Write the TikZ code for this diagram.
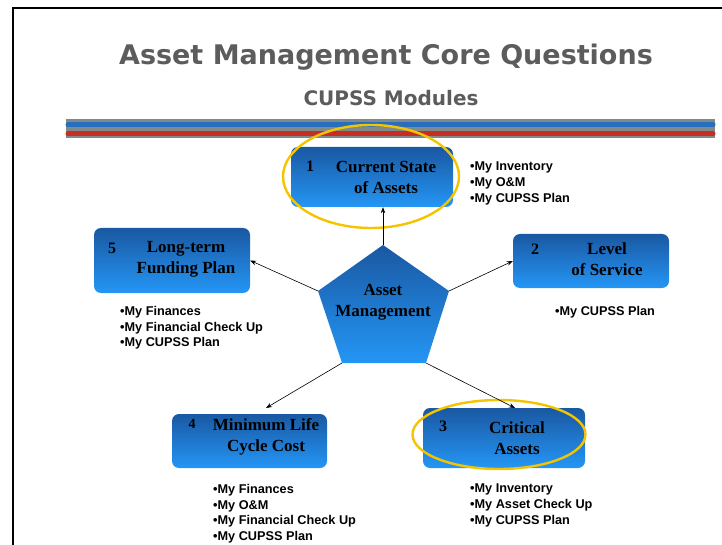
\documentclass[tikz,border=0pt]{standalone}
\usepackage{fontspec}
\setmainfont{Liberation Serif}
\setsansfont{Liberation Sans}
\newfontfamily\titlefont{DejaVu Sans}
\usetikzlibrary{arrows.meta}
\definecolor{boxtop}{RGB}{26,88,162}
\definecolor{boxbot}{RGB}{36,150,245}
\definecolor{ringgold}{RGB}{245,196,0}
\definecolor{titlegray}{RGB}{92,92,92}
\definecolor{bandgray}{RGB}{128,138,138}
\definecolor{bandblue}{RGB}{40,110,190}
\definecolor{bandred}{RGB}{200,45,35}
\begin{document}
\begin{tikzpicture}
[x=1pt,y=-1pt,
  moduledecorate/.style={shape=rectangle,rounded corners=7pt,inner sep=0pt,
    top color=boxtop,bottom color=boxbot,draw=none},
  labeldecorate/.style={align=center,inner sep=0pt,font=\bfseries\fontsize{17}{21}\selectfont},
  numdecorate/.style={inner sep=0pt,font=\bfseries\fontsize{16}{21}\selectfont},
  listdecorate/.style={align=left,anchor=north west,inner sep=0pt,
    font=\sffamily\bfseries\fontsize{12.7}{15.6}\selectfont},
  ringdecorate/.style={draw=ringgold,line width=2.4pt},
  linedecorate/.style={-{Stealth[length=6pt,width=4.5pt]},line width=0.6pt}]
\useasboundingbox (0,0) rectangle (722,545);
% frame
\draw[line width=2pt] (13,545) -- (13,7.7) -- (722,7.7);
% title
\node (title) at (386,57) [text=titlegray,font=\titlefont\bfseries\fontsize{27}{30}\selectfont] {Asset Management Core Questions};
\node (subtitle) at (391,98) [text=titlegray,font=\titlefont\bfseries\fontsize{20}{22}\selectfont] {CUPSS Modules};
% bars
\fill[bandgray] (66,119) rectangle (715,138);
\draw[bandblue,line width=5pt,line cap=round] (68,125) -- (713,125);
\draw[bandred,line width=5pt,line cap=round] (68,134) -- (713,134);
% pentagon
\coordinate (pt) at (383,245);
\coordinate (pr) at (449,291);
\coordinate (pbr) at (426,363);
\coordinate (pbl) at (342,363);
\coordinate (pl) at (318,291);
\shade[top color=boxtop,bottom color=boxbot] (pt) -- (pr) -- (pbr) -- (pbl) -- (pl) -- cycle;
\node (core) at (383,302) [labeldecorate] {Asset\\Management};
% modules
\node (b1) at (372,177) [moduledecorate,minimum width=162pt,minimum height=60pt] {};
\node (n1) at (310,166) [numdecorate] {1};
\node (t1) at (386,177) [labeldecorate] {Current State\\of Assets};
\node (b2) at (591,261) [moduledecorate,minimum width=156pt,minimum height=54pt] {};
\node (n2) at (535,249) [numdecorate] {2};
\node (t2) at (607,259) [labeldecorate] {Level\\of Service};
\node (b3) at (504,438) [moduledecorate,minimum width=162pt,minimum height=60pt] {};
\node (n3) at (443,426) [numdecorate] {3};
\node (t3) at (517,438) [labeldecorate] {Critical\\Assets};
\node (b4) at (249.5,441) [moduledecorate,minimum width=155pt,minimum height=54pt] {};
\node (n4) at (192,424) [numdecorate,font=\bfseries\fontsize{14}{16}\selectfont] {4};
\node (t4) at (266,437) [labeldecorate] {Minimum Life\\Cycle Cost};
\node (b5) at (172,260.5) [moduledecorate,minimum width=156pt,minimum height=65pt] {};
\node (n5) at (112,248) [numdecorate] {5};
\node (t5) at (186,259) [labeldecorate] {Long-term\\Funding Plan};
% module lists
\node (l1) at (470,162) [listdecorate] {\textbullet My Inventory\\\textbullet My O\&M\\\textbullet My CUPSS Plan};
\node (l2) at (555,306) [listdecorate] {\textbullet My CUPSS Plan};
\node (l3) at (470,484) [listdecorate] {\textbullet My Inventory\\\textbullet My Asset Check Up\\\textbullet My CUPSS Plan};
\node (l4) at (213,484) [listdecorate] {\textbullet My Finances\\\textbullet My O\&M\\\textbullet My Financial Check Up\\\textbullet My CUPSS Plan};
\node (l5) at (120,306) [listdecorate] {\textbullet My Finances\\\textbullet My Financial Check Up\\\textbullet My CUPSS Plan};
% rings
\draw[ringdecorate] (371,176.5) ellipse [x radius=88,y radius=51.5];
\draw[ringdecorate] (499,434.5) ellipse [x radius=86.5,y radius=34.5];
% arrows
\coordinate (e4) at (266,408);
\coordinate (e3) at (515,408);
\path
(pt) edge[linedecorate] (pt |- b1.south)
(pr) edge[linedecorate] (b2.west)
(pbr) edge[linedecorate] (e3)
(pbl) edge[linedecorate] (e4)
(pl) edge[linedecorate] (b5.east);
\end{tikzpicture}
\end{document}
